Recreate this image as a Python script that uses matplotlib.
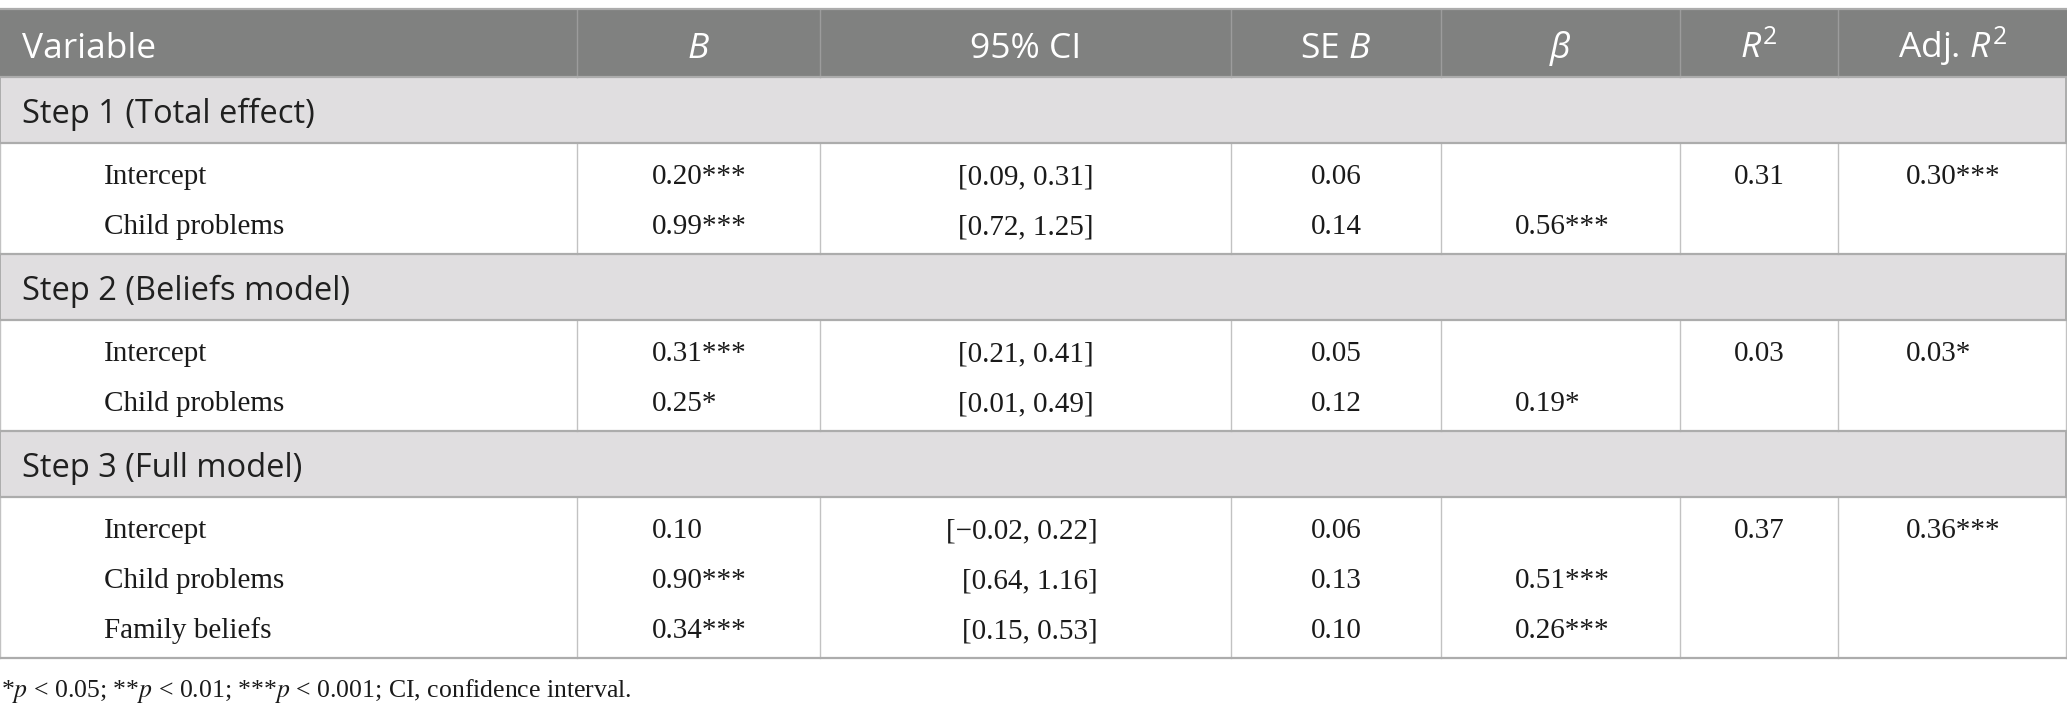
import matplotlib
matplotlib.use("Agg")
import matplotlib.pyplot as plt
from matplotlib.patches import Rectangle

# ---------------- data ----------------
columns = ["Variable", "$B$", "95% CI", "SE $B$", r"$\beta$", "$R^2$", "Adj. $R^2$"]
steps = ["Step 1 (Total effect)", "Step 2 (Beliefs model)", "Step 3 (Full model)"]
variables = [["Intercept", "Child problems"],
             ["Intercept", "Child problems"],
             ["Intercept", "Child problems", "Family beliefs"]]
b_vals = [["0.20***", "0.99***"],
          ["0.31***", "0.25*"],
          ["0.10", "0.90***", "0.34***"]]
ci_vals = [["[0.09, 0.31]", "[0.72, 1.25]"],
           ["[0.21, 0.41]", "[0.01, 0.49]"],
           ["[\u22120.02, 0.22]", "[0.64, 1.16]", "[0.15, 0.53]"]]
se_vals = [["0.06", "0.14"],
           ["0.05", "0.12"],
           ["0.06", "0.13", "0.10"]]
beta_vals = [["", "0.56***"],
             ["", "0.19*"],
             ["", "0.51***", "0.26***"]]
r2_vals = ["0.31", "0.03", "0.37"]
adj_r2_vals = ["0.30***", "0.03*", "0.36***"]
footnote = "*$p$ < 0.05; **$p$ < 0.01; ***$p$ < 0.001; CI, confidence interval."

# ---------------- style ----------------
plt.rcParams["mathtext.fontset"] = "custom"
plt.rcParams["mathtext.rm"] = "Open Sans"
plt.rcParams["mathtext.it"] = "Open Sans:italic"
plt.rcParams["mathtext.bf"] = "Open Sans:bold"

W, H = 2067, 717
fig = plt.figure(figsize=(W / 100, H / 100), dpi=100)
ax = fig.add_axes([0, 0, 1, 1])
ax.set_xlim(0, W)
ax.set_ylim(H, 0)
ax.axis("off")

HEAD_BG = "#808180"
SEC_BG = "#e0dee0"
HLINE = "#acacac"
VLINE = "#c2c2c2"
HVLINE = "#9c9c9c"
SANS = "Open Sans"
SERIF = "Liberation Serif"
TXT = "#1a1a1a"

col_x = [0, 577, 820, 1231, 1441, 1680, 1838, 2066]
head_top, head_bot = 9, 77
sec_h = 66
first_pad = 41
row_gap = 50
last_pad = 20
head_fs = 25.5
step_fs = 23.5
body_fs = 21

# header
ax.add_patch(Rectangle((0, head_top), W, head_bot - head_top, color=HEAD_BG, lw=0, zorder=1))
for x in col_x[1:-1]:
    ax.plot([x, x], [head_top, head_bot], color=HVLINE, lw=1.0, zorder=2)
for i, c in enumerate(columns):
    if i == 0:
        ax.text(22, 58, c, fontsize=head_fs, family=SANS, color="white", ha="left", va="baseline", zorder=3)
    else:
        ax.text((col_x[i] + col_x[i + 1]) / 2, 58, c, fontsize=head_fs, family=SANS, color="white",
                ha="center", va="baseline", zorder=3)

hlines = [head_top, head_bot]
y = head_bot
for s, step in enumerate(steps):
    sec_top = y
    sec_bot = y + sec_h
    ax.add_patch(Rectangle((0, sec_top), W, sec_h, color=SEC_BG, lw=0, zorder=1))
    ax.text(22, sec_top + 46, step, fontsize=step_fs, family=SANS, color="#202020",
            ha="left", va="baseline", zorder=3)
    n = len(variables[s])
    data_bot = sec_bot + first_pad + row_gap * (n - 1) + last_pad
    for x in col_x:
        ax.plot([x, x], [sec_bot, data_bot], color=VLINE, lw=1.0, zorder=2)
    ax.plot([0, 0], [sec_top, sec_bot], color=HLINE, lw=1.4, zorder=2)
    ax.plot([col_x[-1], col_x[-1]], [sec_top, sec_bot], color=HLINE, lw=1.4, zorder=2)
    for r in range(n):
        yb = sec_bot + first_pad + row_gap * r
        kw = dict(fontsize=body_fs, family=SERIF, color=TXT, va="baseline", zorder=3)
        ax.text(104, yb, variables[s][r], ha="left", **kw)
        ax.text(652, yb, b_vals[s][r], ha="left", **kw)
        if s < 2:
            ax.text((col_x[2] + col_x[3]) / 2, yb, ci_vals[s][r], ha="center", **kw)
        else:
            ax.text(1098, yb, ci_vals[s][r], ha="right", **kw)
        ax.text((col_x[3] + col_x[4]) / 2, yb, se_vals[s][r], ha="center", **kw)
        if beta_vals[s][r]:
            ax.text(1515, yb, beta_vals[s][r], ha="left", **kw)
        if r == 0:
            ax.text((col_x[5] + col_x[6]) / 2, yb, r2_vals[s], ha="center", **kw)
            ax.text(1906, yb, adj_r2_vals[s], ha="left", **kw)
    hlines += [sec_bot, data_bot]
    y = data_bot

for yy in hlines:
    ax.plot([0, W], [yy, yy], color=HLINE, lw=1.6, zorder=4)

ax.text(1, 697, footnote, fontsize=18.5, family=SERIF, color=TXT, ha="left", va="baseline",
        math_fontfamily="stix")

fig.savefig("out.png", dpi=100)
